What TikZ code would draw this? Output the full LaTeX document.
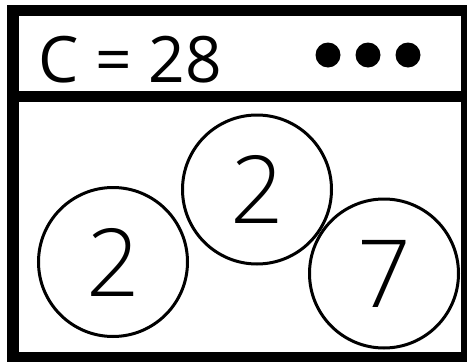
\documentclass[tikz,border=0pt]{standalone}
\usepackage{fontspec}
\setmainfont{Open Sans}
\newfontfamily\thinfont{Open Sans Light}

\begin{document}
\begin{tikzpicture}[
  frame/.style={line width=11.5pt},
  ball/.style={draw, circle, line width=3pt, minimum size=149pt, inner sep=0pt,
    font=\thinfont\fontsize{94}{94}\selectfont},
  x=1pt, y=-1pt]

    \useasboundingbox (0,0) rectangle (467,362);

    \node at (13, 10.5) (f1) {};
    \node at (466.5, 358) (f2) {};
    \node at (13, 96.5) (d1) {};
    \node at (466.5, 96.5) (d2) {};

    \draw[frame] (f1.center) rectangle (f2.center);
    \draw[frame] (d1.center) -- (d2.center);

    \node at (130, 60) (title) {\fontsize{64}{64}\selectfont C = 28};

    \foreach \x in {328, 368, 408}
        \fill (\x, 55) circle (12.5pt);

    \node[ball] at (113, 262) (b1) {2};
    \node[ball] at (257, 189.5) (b2) {2};
    \node[ball] at (384, 273.5) (b3) {7};

\end{tikzpicture}
\end{document}
